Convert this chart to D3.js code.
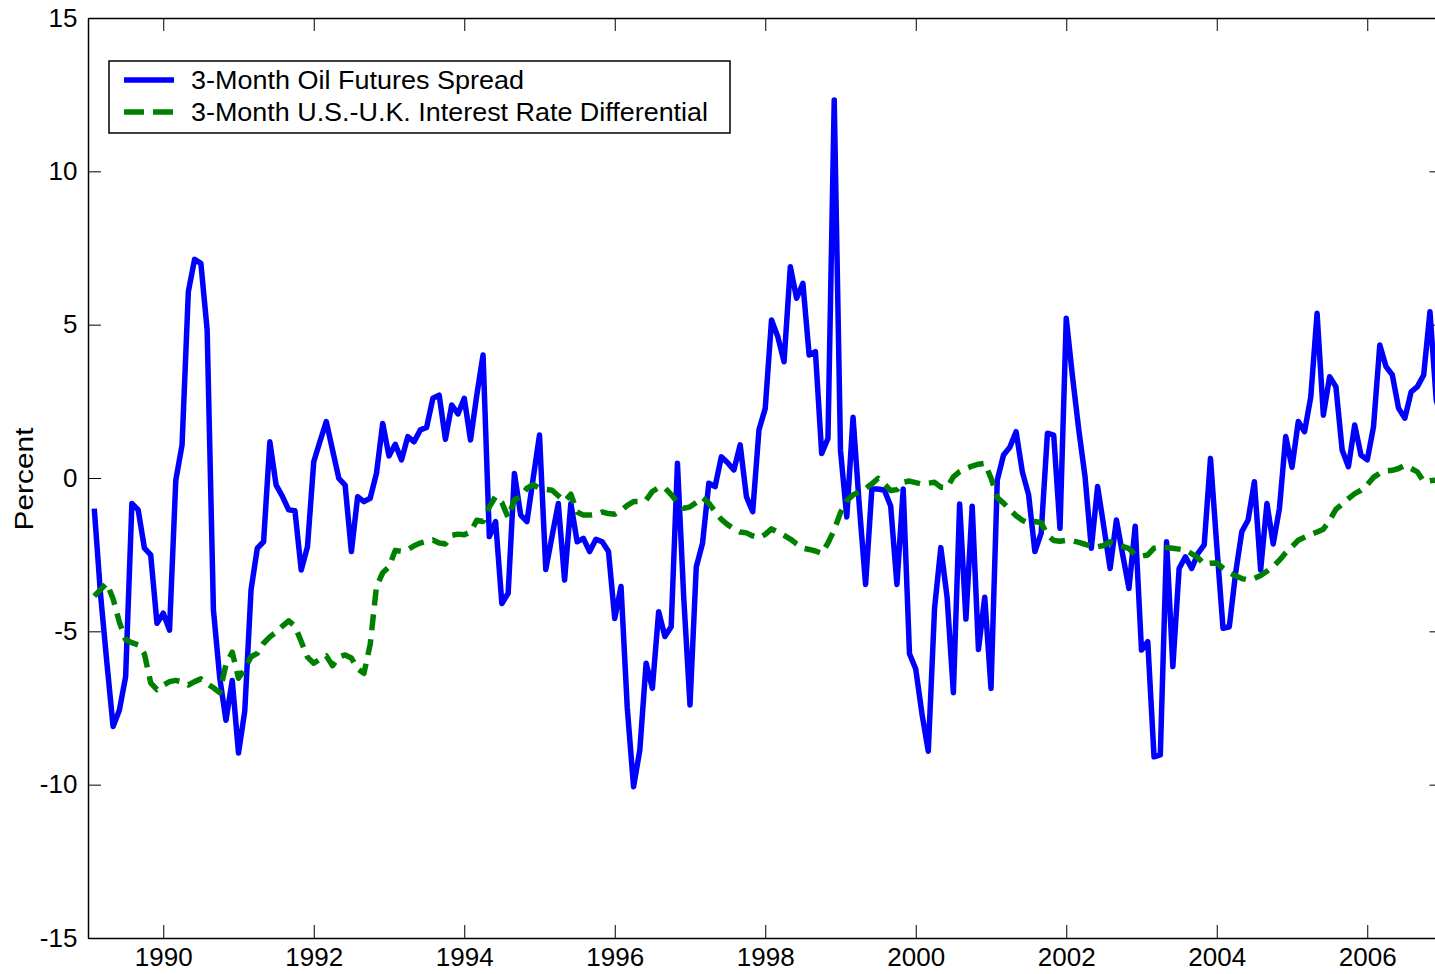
<!DOCTYPE html>
<html>
<head>
<meta charset="utf-8">
<script src="https://cdn.jsdelivr.net/npm/d3@7"></script>
<style>
  html, body { margin: 0; padding: 0; background: #fff; }
  svg { display: block; font-family: "Liberation Sans", Arial, Helvetica, sans-serif; }
</style>
</head>
<body>
<svg id="chart" width="1435" height="974"></svg>
<script>
// ---- data (monthly, Jan 1989 .. Dec 2006) ----
const startYear = 1989;
const seriesNames = ["3-Month Oil Futures Spread", "3-Month U.S.-U.K. Interest Rate Differential"];
const oilSpread = [
 -1.0,-3.8,-6.0,-8.1,-7.57,-6.48,-0.83,-1.04,-2.29,-2.51,-4.74,-4.41,
 -4.96,-0.07,1.08,6.07,7.13,7.0,4.83,-4.3,-6.5,-7.9,-6.6,-8.97,
 -7.6,-3.65,-2.29,-2.08,1.18,-0.23,-0.6,-1.04,-1.07,-3.0,-2.24,0.53,
 1.2,1.84,0.91,-0.01,-0.23,-2.4,-0.61,-0.77,-0.66,0.15,1.78,0.72,
 1.1,0.59,1.35,1.18,1.57,1.65,2.6,2.7,1.26,2.38,2.09,2.6,
 1.24,2.7,4.01,-1.91,-1.42,-4.09,-3.76,0.15,-1.21,-1.42,0.0,1.4,
 -2.98,-1.9,-0.83,-3.33,-0.83,-2.08,-1.97,-2.4,-2.0,-2.08,-2.4,-4.58,
 -3.54,-7.5,-10.07,-8.87,-6.04,-6.86,-4.36,-5.17,-4.85,0.48,-3.9,-7.4,
 -2.9,-2.13,-0.17,-0.28,0.69,0.5,0.26,1.08,-0.61,-1.1,1.57,2.27,
 5.15,4.61,3.79,6.89,5.86,6.35,4.01,4.12,0.8,1.29,12.33,0.9,
 -1.27,1.98,-0.9,-3.47,-0.36,-0.36,-0.4,-0.91,-3.47,-0.36,-5.73,-6.23,
 -7.7,-8.91,-4.25,-2.27,-3.89,-7.0,-0.85,-4.6,-0.92,-5.59,-3.89,-6.86,
 -0.07,0.75,1.0,1.51,0.2,-0.55,-2.4,-1.8,1.46,1.4,-1.64,5.21,
 3.3,1.57,0.04,-2.29,-0.28,-1.6,-2.95,-1.37,-2.5,-3.6,-1.57,-5.61,
 -5.34,-9.09,-9.03,-2.08,-6.15,-2.95,-2.57,-2.95,-2.46,-2.18,0.64,-2.2,
 -4.9,-4.85,-3.11,-1.75,-1.37,-0.12,-3.0,-0.83,-2.15,-0.99,1.35,0.35,
 1.84,1.51,2.65,5.37,2.05,3.3,2.98,0.91,0.37,1.73,0.75,0.59,
 1.67,4.34,3.63,3.36,2.27,1.95,2.81,2.98,3.36,5.42,2.54,1.8
];
const rateDiff = [
 -3.85,-3.64,-3.43,-3.94,-4.7,-5.27,-5.37,-5.44,-5.74,-6.68,-6.9,-6.76,
 -6.64,-6.6,-6.65,-6.75,-6.64,-6.55,-6.7,-6.84,-7.0,-6.08,-5.68,-6.53,
 -6.23,-5.83,-5.72,-5.39,-5.18,-5.03,-4.83,-4.66,-4.83,-5.33,-5.84,-6.04,
 -5.91,-5.8,-6.12,-5.84,-5.77,-5.87,-6.23,-6.37,-5.43,-3.54,-3.09,-2.9,
 -2.36,-2.39,-2.34,-2.21,-2.12,-2.07,-2.02,-2.12,-2.15,-1.87,-1.83,-1.85,
 -1.76,-1.38,-1.42,-0.94,-0.6,-0.8,-1.29,-0.71,-0.62,-0.33,-0.22,-0.33,
 -0.37,-0.4,-0.58,-0.76,-0.53,-1.11,-1.21,-1.21,-1.18,-1.11,-1.16,-1.18,
 -1.06,-0.89,-0.77,-0.77,-0.72,-0.44,-0.31,-0.32,-0.54,-0.8,-0.99,-0.94,
 -0.8,-0.63,-0.82,-1.09,-1.35,-1.52,-1.66,-1.76,-1.79,-1.89,-1.95,-1.84,
 -1.66,-1.76,-1.87,-1.99,-2.15,-2.29,-2.33,-2.38,-2.46,-2.12,-1.69,-1.13,
 -0.74,-0.55,-0.45,-0.34,-0.19,-0.01,-0.2,-0.41,-0.38,-0.14,-0.1,-0.15,
 -0.2,-0.17,-0.14,-0.3,-0.31,0.04,0.21,0.31,0.39,0.45,0.48,0.0,
 -0.64,-0.82,-1.03,-1.23,-1.38,-1.48,-1.42,-1.46,-1.86,-2.04,-2.06,-2.03,
 -2.05,-2.1,-2.16,-2.23,-2.24,-2.2,-2.08,-2.16,-2.23,-2.3,-2.51,-2.55,
 -2.51,-2.29,-2.25,-2.27,-2.29,-2.32,-2.35,-2.47,-2.6,-2.81,-2.78,-2.77,
 -2.94,-3.09,-3.19,-3.28,-3.32,-3.27,-3.18,-3.04,-2.89,-2.68,-2.44,-2.24,
 -2.03,-1.93,-1.84,-1.76,-1.67,-1.38,-1.02,-0.85,-0.67,-0.51,-0.4,-0.22,
 0.02,0.16,0.23,0.25,0.31,0.41,0.31,0.2,-0.12,-0.09,-0.07,-0.05
];
const xTickYears = [1990, 1992, 1994, 1996, 1998, 2000, 2002, 2004, 2006];
const yTickValues = [-15, -10, -5, 0, 5, 10, 15];
const xDomain = [1989, 2007];
const yDomain = [-15, 15];
const yLabel = "Percent";

// ---- layout ----
const svg = d3.select("#chart");
const L = 88, T = 18, R = 1442.5, B = 938;
const x = d3.scaleLinear().domain(xDomain).range([L, R]);
const y = d3.scaleLinear().domain(yDomain).range([B, T]);
const tLen = 13;
const FONT = 26;
const plainFmt = d => String(d);

svg.append("rect").attr("width", 1435).attr("height", 974).attr("fill", "#fff");

svg.append("defs").append("clipPath").attr("id", "clip")
  .append("rect").attr("x", L).attr("y", T).attr("width", R - L).attr("height", B - T);

// axes
const axB = svg.append("g").attr("transform", `translate(0,${B})`)
  .call(d3.axisBottom(x).tickValues(xTickYears).tickFormat(plainFmt).tickSizeInner(-tLen).tickSizeOuter(0).tickPadding(9));
const axT = svg.append("g").attr("transform", `translate(0,${T})`)
  .call(d3.axisTop(x).tickValues(xTickYears).tickFormat("").tickSizeInner(-tLen).tickSizeOuter(0));
const axL = svg.append("g").attr("transform", `translate(${L},0)`)
  .call(d3.axisLeft(y).tickValues(yTickValues).tickFormat(plainFmt).tickSizeInner(-tLen).tickSizeOuter(0).tickPadding(8));
const axR = svg.append("g").attr("transform", `translate(${R},0)`)
  .call(d3.axisRight(y).tickValues(yTickValues).tickFormat("").tickSizeInner(-tLen).tickSizeOuter(0));

[axB, axT, axL, axR].forEach(g => {
  g.select(".domain").attr("stroke", "#000").attr("stroke-width", 1.5);
  g.selectAll(".tick line").attr("stroke", "#000").attr("stroke-width", 1);
  g.selectAll(".tick text").attr("fill", "#000").attr("font-size", FONT)
    .attr("font-family", '"Liberation Sans", Arial, sans-serif');
});
axB.selectAll(".tick text").attr("dy", "0.72em");
axL.selectAll(".tick text").attr("dx", "-0.1em");

// y label
svg.append("text")
  .attr("transform", `translate(33,${y(0) + 1}) rotate(-90)`)
  .attr("text-anchor", "middle")
  .attr("font-size", FONT)
  .attr("fill", "#000")
  .attr("textLength", 103)
  .attr("lengthAdjust", "spacingAndGlyphs")
  .text(yLabel);

// lines
const monthX = i => startYear + (i + 1) / 12;
const line = d3.line().x((d, i) => x(monthX(i))).y(d => y(d));
const plot = svg.append("g").attr("clip-path", "url(#clip)");

plot.append("path").datum(oilSpread)
  .attr("d", line)
  .attr("fill", "none").attr("stroke", "#0000ff").attr("stroke-width", 5.5)
  .attr("stroke-linejoin", "round");

plot.append("path").datum(rateDiff)
  .attr("d", line)
  .attr("fill", "none").attr("stroke", "#008000").attr("stroke-width", 5.5)
  .attr("stroke-dasharray", "16,9")
  .attr("stroke-linejoin", "round");

// legend
const lg = svg.append("g");
lg.append("rect").attr("x", 109).attr("y", 61).attr("width", 621).attr("height", 72)
  .attr("fill", "#fff").attr("stroke", "#000").attr("stroke-width", 1.5);
const legendItems = [
  { name: seriesNames[0], color: "#0000ff", dash: null, yy: 80, len: 333 },
  { name: seriesNames[1], color: "#008000", dash: "20,9", yy: 112, len: 517 }
];
legendItems.forEach(it => {
  lg.append("line").attr("x1", 124).attr("x2", 174).attr("y1", it.yy).attr("y2", it.yy)
    .attr("stroke", it.color).attr("stroke-width", 5.5)
    .attr("stroke-dasharray", it.dash);
  lg.append("text").attr("x", 191).attr("y", it.yy).attr("dy", "0.36em")
    .attr("font-size", FONT).attr("fill", "#000")
    .attr("textLength", it.len).attr("lengthAdjust", "spacingAndGlyphs")
    .text(it.name);
});
</script>
</body>
</html>
